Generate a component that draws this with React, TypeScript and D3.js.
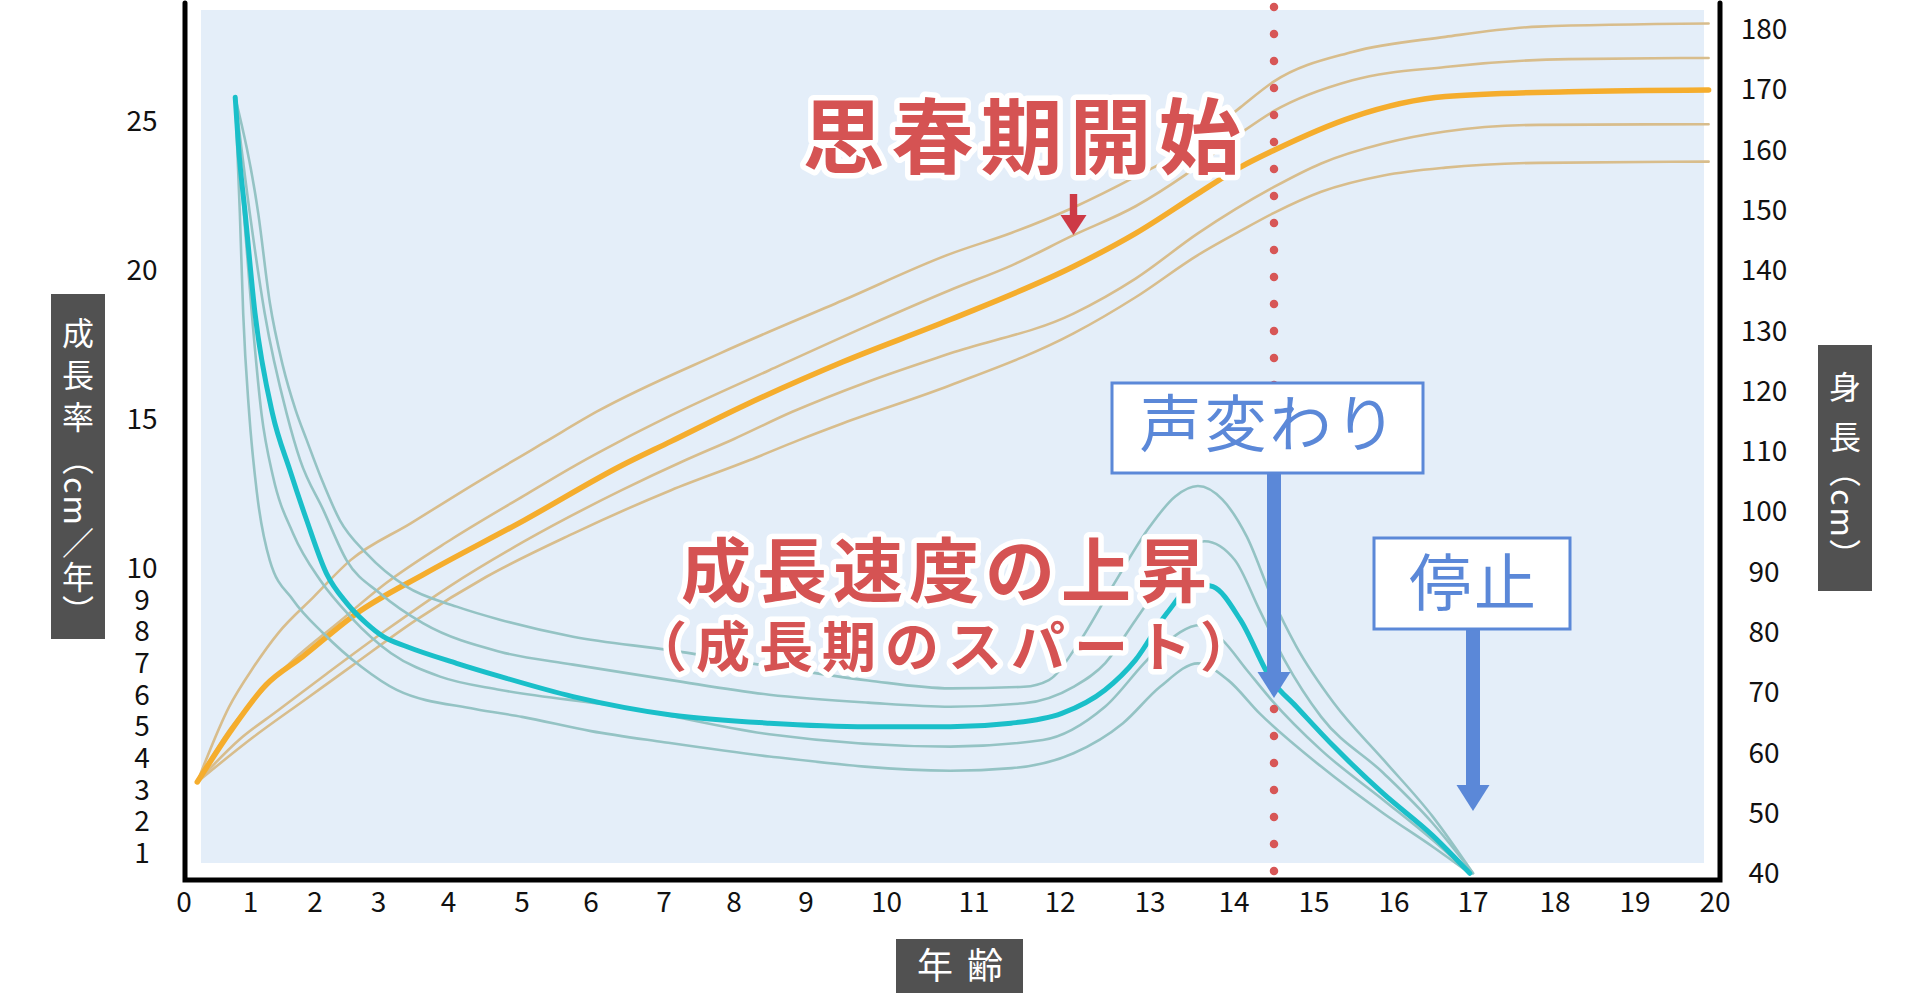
import React, { FunctionComponent, useEffect, useRef } from "react";
import * as d3 from "d3";

type Pt = [number, number];

const FONT = '"Noto Sans CJK JP", "Noto Sans", sans-serif';

// axis ticks (the age labels are not evenly spaced in the original)
const ageTicks = d3.range(0, 21);
const ageTickX = [184, 250.5, 315, 378.5, 448.5, 522, 591, 664, 734, 806, 886.5, 974, 1060, 1150, 1234, 1314, 1394, 1473, 1555, 1635, 1715];
const rateTicks = [1, 2, 3, 4, 5, 6, 7, 8, 9, 10, 15, 20, 25];
const heightTicks = [40, 50, 60, 70, 80, 90, 100, 110, 120, 130, 140, 150, 160, 170, 180];

// height (cm) by age
const heightP97: Pt[] = [[0.2, 55.1], [0.68, 67.6], [1.05, 74.2], [1.43, 79.8], [1.98, 85.8], [2.56, 91.9], [3.46, 98.0], [4.36, 104.6], [5.35, 111.6], [6.09, 116.6], [7.8, 126.2], [9.46, 135.0], [10.73, 142.7], [11.44, 146.2], [12.15, 150.4], [12.84, 155.5], [13.57, 161.3], [14.08, 167.0], [14.5, 171.3], [15.48, 176.2], [16.65, 178.7], [17.8, 180.4], [19.92, 180.9]];
const heightP75: Pt[] = [[0.2, 55.1], [0.68, 63.7], [1.2, 70.4], [1.66, 75.3], [2.35, 81.4], [3.11, 88.1], [4.02, 95.2], [5.03, 102.6], [5.8, 107.8], [6.36, 111.4], [7.1, 115.9], [8.49, 123.4], [9.77, 130.8], [10.73, 136.7], [11.44, 140.8], [12.15, 145.8], [12.84, 150.6], [13.42, 155.8], [14.08, 162.7], [14.5, 166.4], [15.48, 171.5], [16.65, 173.7], [18.17, 175.0], [19.92, 175.2]];
const heightP50: Pt[] = [[0.2, 55.1], [0.68, 63.2], [1.24, 71.2], [1.81, 75.9], [2.66, 83.1], [3.67, 89.7], [5.03, 98.5], [6.42, 107.6], [7.1, 111.6], [8.15, 117.6], [9.46, 124.8], [10.73, 131.8], [12.15, 140.6], [12.84, 146.1], [13.57, 152.7], [14.08, 157.1], [14.5, 159.9], [15.48, 165.4], [16.65, 168.8], [18.17, 169.6], [19.92, 169.9]];
const heightP25: Pt[] = [[0.2, 55.1], [0.83, 62.1], [1.43, 67.0], [2.19, 73.1], [3.11, 80.3], [4.02, 87.6], [5.03, 95.0], [6.42, 103.5], [7.31, 108.5], [8.0, 112.0], [8.81, 116.5], [9.77, 121.5], [10.73, 126.2], [12.15, 132.8], [12.84, 138.6], [13.57, 146.1], [14.5, 153.8], [15.09, 157.7], [15.87, 161.0], [16.65, 163.0], [17.8, 164.1], [19.92, 164.2]];
const heightP3: Pt[] = [[0.2, 55.1], [1.05, 62.6], [1.84, 68.7], [2.56, 74.2], [3.54, 82.0], [4.51, 89.1], [5.74, 96.3], [7.1, 103.5], [8.22, 108.5], [8.9, 111.8], [9.46, 114.6], [10.73, 120.9], [12.15, 129.5], [12.84, 135.5], [13.57, 142.5], [14.08, 146.5], [14.5, 149.5], [15.09, 153.0], [15.87, 155.7], [16.65, 157.0], [17.8, 157.8], [19.92, 158.0]];

// growth rate (cm / year) by age
const rateP97: Pt[] = [[0.77, 25.8], [1.12, 21.9], [1.3, 18.9], [1.5, 16.8], [1.7, 15.3], [1.87, 14.3], [2.1, 13.0], [2.39, 11.61], [2.81, 10.49], [3.4, 9.41], [4.11, 8.78], [4.71, 8.36], [5.74, 7.83], [7.1, 7.4], [8.49, 6.9], [9.77, 6.45], [10.73, 6.2], [11.58, 6.25], [11.87, 6.46], [12.2, 7.6], [12.6, 9.5], [13.0, 11.4], [13.3, 12.4], [13.57, 12.75], [13.86, 12.3], [14.16, 11.05], [14.47, 9.09], [14.78, 7.52], [15.25, 5.73], [15.87, 3.94], [16.49, 2.15], [17.0, 0.36]];
const rateP75: Pt[] = [[0.77, 25.8], [0.99, 21.9], [1.22, 18.55], [1.56, 15.19], [1.77, 13.62], [2.13, 11.95], [2.5, 10.25], [3.02, 9.2], [3.64, 8.25], [4.71, 7.35], [5.74, 6.95], [7.1, 6.46], [8.49, 6.0], [9.77, 5.75], [10.73, 5.62], [11.58, 5.73], [12.15, 6.25], [12.5, 6.99], [12.84, 8.36], [13.19, 9.7], [13.65, 10.9], [14.01, 10.27], [14.32, 8.67], [14.63, 7.1], [15.09, 5.3], [15.87, 3.52], [16.49, 1.94], [17.0, 0.36]];
const rateP50: Pt[] = [[0.77, 25.8], [0.82, 24.13], [0.92, 21.9], [1.07, 18.55], [1.34, 15.19], [1.61, 13.29], [1.87, 11.61], [2.18, 9.83], [2.5, 8.89], [2.81, 8.25], [3.07, 7.83], [3.4, 7.52], [4.11, 6.99], [4.71, 6.57], [5.74, 5.94], [7.1, 5.36], [8.49, 5.1], [9.77, 4.99], [10.73, 4.99], [11.43, 5.1], [12.02, 5.41], [12.5, 6.15], [12.84, 7.1], [13.2, 8.57], [13.55, 9.5], [13.75, 9.41], [14.08, 8.36], [14.47, 6.46], [14.78, 5.62], [15.25, 4.36], [15.86, 2.89], [16.49, 1.55], [16.96, 0.36]];
const rateP25: Pt[] = [[0.77, 25.8], [0.9, 21.9], [1.02, 18.55], [1.17, 15.19], [1.35, 13.06], [1.66, 11.16], [2.08, 9.62], [2.56, 8.46], [3.18, 7.31], [3.88, 6.57], [4.71, 6.15], [6.42, 5.62], [8.49, 4.75], [10.73, 4.36], [11.8, 4.57], [12.5, 5.62], [13.05, 7.31], [13.6, 8.2], [13.86, 7.73], [14.16, 6.78], [14.47, 5.83], [15.09, 4.25], [15.87, 2.67], [16.49, 1.41], [16.96, 0.36]];
const rateP3: Pt[] = [[0.77, 25.8], [0.84, 21.9], [0.89, 18.55], [0.98, 15.2], [1.1, 12.51], [1.3, 10.25], [1.66, 8.99], [2.13, 7.94], [2.73, 6.88], [3.26, 6.15], [4.36, 5.55], [5.0, 5.3], [6.0, 4.85], [7.0, 4.5], [8.49, 4.05], [10.73, 3.6], [11.44, 3.68], [12.15, 4.15], [12.7, 5.1], [13.12, 6.25], [13.57, 6.99], [13.93, 6.46], [14.32, 5.41], [15.09, 3.73], [15.87, 2.25], [16.49, 1.2], [16.96, 0.36]];

// events
const pubertyAge = 12.15;
const voiceChangeAge = 14.5;
const stopAge = 17;

const App: FunctionComponent = () => {
  const d3Container = useRef(null);

  useEffect(() => {
    if (!d3Container.current) {
      return;
    }
    const svg = d3.select(d3Container.current);
    svg.selectAll("*").remove();

    const x = d3.scaleLinear().domain(ageTicks).range(ageTickX);
    const yRate = d3.scaleLinear().domain([0, 10, 25]).range([884.7, 568, 121]);
    const yHeight = d3.scaleLinear().domain([40, 180]).range([873, 29]);

    // plot background
    svg.append("rect")
      .attr("x", 201).attr("y", 10)
      .attr("width", 1503).attr("height", 853)
      .attr("fill", "#e4eef9");

    // frame
    svg.append("path")
      .attr("d", "M185,3V880H1720V3")
      .attr("fill", "none")
      .attr("stroke", "#000")
      .attr("stroke-width", 5)
      .attr("stroke-linecap", "round");

    // tick labels
    const tickText = (sel: any) => sel
      .attr("font-family", FONT)
      .attr("font-size", 28)
      .attr("fill", "#111")
      .attr("text-anchor", "middle");

    svg.append("g").selectAll("text").data(rateTicks).enter()
      .append("text").call(tickText)
      .attr("x", 142).attr("y", (d: number) => yRate(d)).attr("dy", "0.36em")
      .text((d: number) => d);

    svg.append("g").selectAll("text").data(heightTicks).enter()
      .append("text").call(tickText)
      .attr("x", 1764).attr("y", (d: number) => yHeight(d)).attr("dy", "0.36em")
      .text((d: number) => d);

    svg.append("g").selectAll("text").data(ageTicks).enter()
      .append("text").call(tickText)
      .attr("x", (d: number) => x(d)).attr("y", 902).attr("dy", "0.36em")
      .text((d: number) => d);

    // axis title boxes
    const box = (bx: number, by: number, bw: number, bh: number) => svg.append("rect")
      .attr("x", bx).attr("y", by).attr("width", bw).attr("height", bh)
      .attr("fill", "#515151");

    box(51, 294, 54, 345);
    box(1818, 345, 54, 246);
    box(896, 939, 127, 54);

    const verticalLabel = (head: string, headSpacing: number, rest: string, cx: number, top: number) => {
      const t = svg.append("text")
        .attr("x", cx).attr("y", top)
        .attr("font-family", FONT).attr("font-size", 32)
        .attr("fill", "#fff")
        .style("writing-mode", "vertical-rl")
        .style("text-orientation", "mixed");
      t.append("tspan").attr("letter-spacing", headSpacing).text(head);
      t.append("tspan").attr("letter-spacing", 2).text(rest);
    };
    verticalLabel("成長率", 10, "（cm／年）", 78, 317);
    verticalLabel("身", 18, "長（cm）", 1845, 371);

    svg.append("text")
      .attr("x", 967).attr("y", 979)
      .attr("font-family", FONT).attr("font-size", 36)
      .attr("letter-spacing", 14)
      .attr("fill", "#fff").attr("text-anchor", "middle")
      .text("年齢");

    // curves
    const heightLine = d3.line<Pt>()
      .x(d => x(d[0])).y(d => yHeight(d[1]))
      .curve(d3.curveMonotoneX);
    const rateLine = d3.line<Pt>()
      .x(d => x(d[0])).y(d => yRate(d[1]))
      .curve(d3.curveMonotoneX);

    const curves = svg.append("g").attr("fill", "none").attr("stroke-linecap", "round");
    [heightP97, heightP75, heightP25, heightP3].forEach(s => {
      curves.append("path").attr("d", heightLine(s) as string)
        .attr("stroke", "#d8bd8c").attr("stroke-width", 2.6);
    });
    curves.append("path").attr("d", heightLine(heightP50) as string)
      .attr("stroke", "#f5ad2d").attr("stroke-width", 5.5);

    [rateP97, rateP75, rateP25, rateP3].forEach(s => {
      curves.append("path").attr("d", rateLine(s) as string)
        .attr("stroke", "#94c3c4").attr("stroke-width", 2.6);
    });
    curves.append("path").attr("d", rateLine(rateP50) as string)
      .attr("stroke", "#1abfc9").attr("stroke-width", 5);

    // voice change line
    svg.append("line")
      .attr("x1", x(voiceChangeAge)).attr("x2", x(voiceChangeAge))
      .attr("y1", 7).attr("y2", 872)
      .attr("stroke", "#d75656").attr("stroke-width", 8.5)
      .attr("stroke-dasharray", "0 27")
      .attr("stroke-linecap", "round");

    // red annotations
    const redText = (t: string, tx: number, ty: number, size: number, spacing: number) => svg.append("text")
      .attr("x", tx).attr("y", ty)
      .attr("font-family", FONT).attr("font-size", size).attr("font-weight", 700)
      .attr("letter-spacing", spacing)
      .attr("text-anchor", "middle")
      .attr("fill", "#d55353")
      .attr("stroke", "#fff").attr("stroke-width", 11)
      .attr("stroke-linejoin", "round")
      .attr("paint-order", "stroke")
      .text(t);

    redText("思春期開始", 1025, 167, 82, 7);
    redText("成長速度の上昇", 947, 597, 70, 6);
    redText("（成長期のスパート）", 948, 667, 54, 9);

    const px = x(pubertyAge);
    svg.append("rect").attr("x", px - 3.7).attr("y", 194).attr("width", 7.4).attr("height", 23).attr("fill", "#cd3a46");
    svg.append("path").attr("d", `M${px - 13},215L${px + 13},215L${px},235Z`).attr("fill", "#cd3a46");

    // blue notes
    const BLUE = "#5b88d8";
    const note = (t: string, bx: number, by: number, bw: number, bh: number, ty: number, ax: number, shaftEnd: number) => {
      svg.append("rect").attr("x", ax - 7).attr("y", by + bh).attr("width", 14).attr("height", shaftEnd - by - bh + 2).attr("fill", BLUE);
      svg.append("path").attr("d", `M${ax - 16.5},${shaftEnd}L${ax + 16.5},${shaftEnd}L${ax},${shaftEnd + 26}Z`).attr("fill", BLUE);
      svg.append("rect").attr("x", bx).attr("y", by).attr("width", bw).attr("height", bh)
        .attr("fill", "#fff").attr("stroke", BLUE).attr("stroke-width", 3);
      svg.append("text")
        .attr("x", bx + bw / 2 + 2).attr("y", ty)
        .attr("font-family", FONT).attr("font-size", 62)
        .attr("letter-spacing", 3)
        .attr("text-anchor", "middle").attr("fill", BLUE)
        .text(t);
    };
    note("声変わり", 1112, 383, 311, 90, 447, x(voiceChangeAge), 672);
    note("停止", 1374, 538, 196, 91, 606, x(stopAge), 785);
  }, []);

  return (
    <div style={{ position: "absolute", left: 0, top: 0 }}>
      <svg ref={d3Container} width={1920} height={1007} style={{ display: "block", background: "#fff" }} />
    </div>
  );
};

export default App;
